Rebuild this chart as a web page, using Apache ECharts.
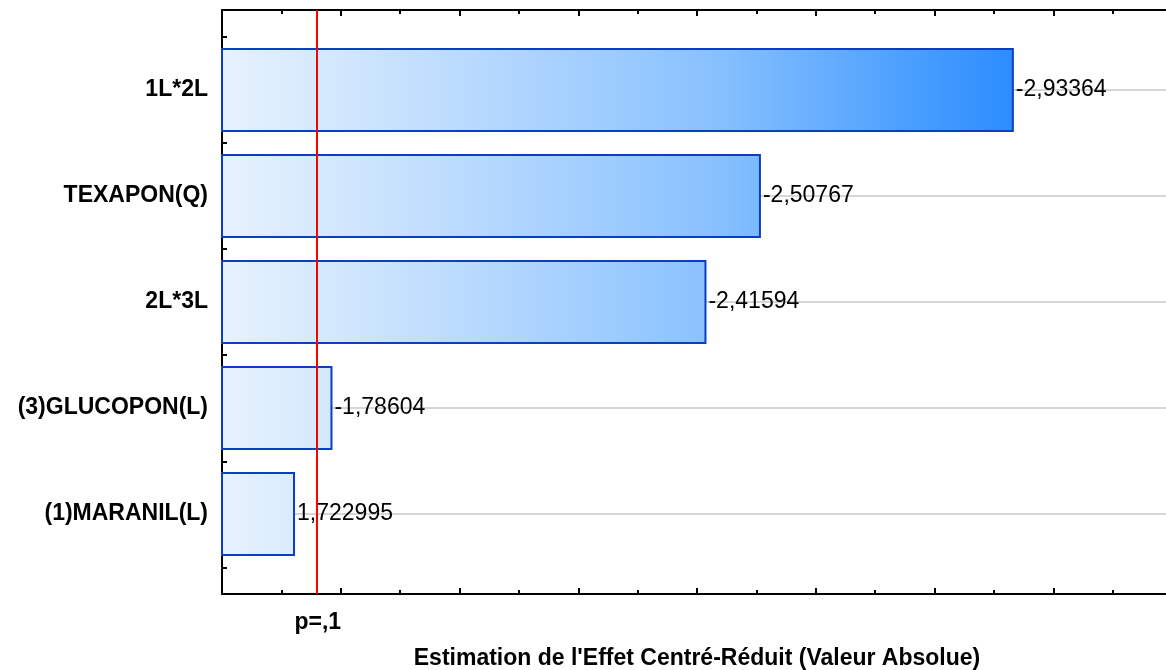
<!DOCTYPE html>
<html><head><meta charset="utf-8">
<script src="https://cdn.jsdelivr.net/npm/echarts@6/dist/echarts.min.js"></script>
<style>html,body{margin:0;padding:0;background:#fff}#c{width:1166px;height:670px}</style>
</head><body><div id="c"></div>
<script>
// ---- data ----
const categories = ['1L*2L', 'TEXAPON(Q)', '2L*3L', '(3)GLUCOPON(L)', '(1)MARANIL(L)'];
const effects = [-2.93364, -2.50767, -2.41594, -1.78604, 1.722995];
const pValueLabel = 'p=,1';
const pValueThreshold = 1.7613;
const xAxisTitle = "Estimation de l'Effet Centré-Réduit (Valeur Absolue)";
const xMin = 1.6, xMax = 3.2, xStep = 0.2;
const yMin = 0.25, yMax = 5.75, yStep = 0.25;

// ---- chart ----
const FONT = "'Liberation Sans', Arial, sans-serif";
const chart = echarts.init(document.getElementById('c'), null, {renderer: 'canvas'});
const gridLeft = 222, gridWidth = 950;
const tickLine = {color: '#000', width: 2};

const option = {
  animation: false,
  backgroundColor: '#fff',
  grid: [
    {left: gridLeft, top: 10, width: gridWidth, height: 584, outerBoundsMode: 'none', containLabel: false},
    {left: gridLeft, top: 37, width: gridWidth, height: 530, outerBoundsMode: 'none', containLabel: false}
  ],
  xAxis: [
    {
      gridIndex: 0, type: 'value', position: 'bottom', min: xMin, max: xMax, interval: xStep,
      axisLine: {show: true, lineStyle: {color: '#000', width: 2}},
      axisTick: {show: true, inside: true, length: 6, lineStyle: tickLine},
      minorTick: {show: true, splitNumber: 2, length: 4, lineStyle: tickLine},
      splitLine: {show: false},
      axisLabel: {
        show: true, customValues: [pValueThreshold], formatter: () => pValueLabel,
        margin: 17, fontFamily: FONT, fontSize: 23, fontWeight: 'bold', color: '#000'
      },
      name: xAxisTitle, nameLocation: 'middle', nameGap: 53,
      nameTextStyle: {fontFamily: FONT, fontSize: 23, fontWeight: 'bold', color: '#000'}
    },
    {
      gridIndex: 0, type: 'value', position: 'top', min: xMin, max: xMax, interval: xStep,
      axisLine: {show: true, lineStyle: {color: '#000', width: 2}},
      axisTick: {show: true, inside: true, length: 6, lineStyle: tickLine},
      minorTick: {show: true, splitNumber: 2, length: 4, lineStyle: tickLine},
      splitLine: {show: false}, axisLabel: {show: false}
    },
    {
      gridIndex: 1, type: 'value', min: xMin, max: xMax, show: false
    }
  ],
  yAxis: [
    {
      gridIndex: 0, type: 'value', position: 'left', min: yMin, max: yMax, interval: yStep,
      axisLine: {show: true, lineStyle: {color: '#000', width: 2}},
      axisTick: {show: true, inside: true, length: 5, lineStyle: tickLine},
      splitLine: {show: false}, axisLabel: {show: false}
    },
    {
      gridIndex: 1, type: 'category', position: 'left', inverse: true, data: categories,
      axisLine: {show: false},
      axisTick: {show: true, inside: true, alignWithLabel: true, length: 8, lineStyle: {color: '#000', width: 2}},
      splitLine: {show: false},
      axisLabel: {margin: 14, fontFamily: FONT, fontSize: 23, fontWeight: 'bold', color: '#000'}
    },
    {
      gridIndex: 1, type: 'category', position: 'right', inverse: true, data: categories,
      axisLine: {show: false},
      axisTick: {show: true, inside: true, alignWithLabel: true, length: 8, lineStyle: {color: '#000', width: 2}},
      splitLine: {show: false}, axisLabel: {show: false}
    }
  ],
  series: [
    {
      type: 'bar', xAxisIndex: 2, yAxisIndex: 1, z: 3,
      data: effects.map(v => Math.abs(v)),
      barWidth: 84,
      itemStyle: {
        color: {
          type: 'linear', x: gridLeft, y: 0, x2: 1016, y2: 0, global: true,
          colorStops: [
            {offset: 0, color: '#e6f2fe'},
            {offset: 0.15, color: '#d2e7fd'},
            {offset: 0.62, color: '#88c1ff'},
            {offset: 1, color: '#2a8cff'}
          ]
        },
        borderColor: '#0a3fc2', borderWidth: 2
      },
      label: {
        show: true, position: 'right', distance: 2,
        formatter: p => String(effects[p.dataIndex]).replace('.', ','),
        fontFamily: FONT, fontSize: 23, color: '#000'
      }
    },
    {
      type: 'line', xAxisIndex: 2, yAxisIndex: 1, data: [], z: 1,
      markLine: {
        z: 1, silent: true, symbol: 'none', animation: false,
        label: {show: false},
        lineStyle: {color: '#d6d6d6', width: 2, type: 'solid'},
        data: categories.map(c => ({yAxis: c}))
      }
    },
    {
      type: 'line', xAxisIndex: 0, yAxisIndex: 0, data: [], z: 5,
      markLine: {
        z: 6, silent: true, symbol: 'none', animation: false,
        label: {show: false},
        lineStyle: {color: '#ff0000', width: 2, type: 'solid'},
        data: [{xAxis: pValueThreshold}]
      }
    }
  ]
};
chart.setOption(option);
</script></body></html>
